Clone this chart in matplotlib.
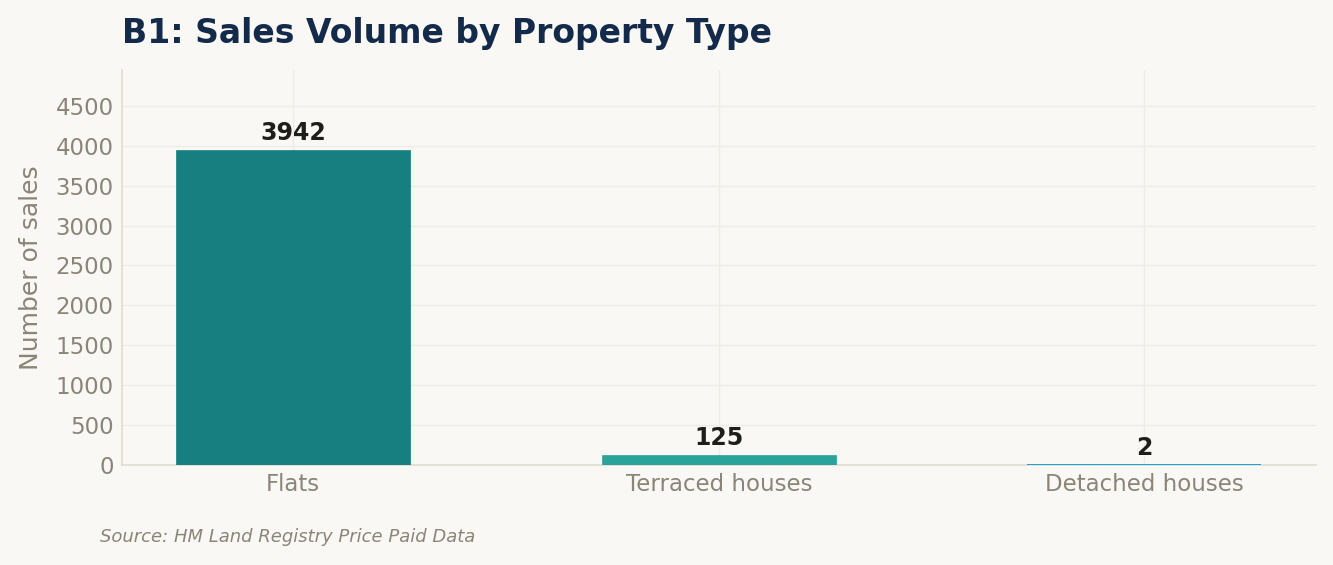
import matplotlib.pyplot as plt

plt.rcParams['font.family'] = ['DejaVu Sans']

# data
categories = ['Flats', 'Terraced houses', 'Detached houses']
sales = [3942, 125, 2]
bar_colors = ['#177F7F', '#2AA39A', '#1A9FD8']

bg = '#F9F8F4'
grid_col = '#EFECE6'
spine_col = '#E0DCCF'
text_grey = '#8A8578'

fig, ax = plt.subplots(figsize=(13.33, 5.65), dpi=100)
fig.patch.set_facecolor(bg)
ax.set_facecolor(bg)
fig.subplots_adjust(left=0.0915, right=0.987, top=0.876, bottom=0.177)

bars = ax.bar(categories, sales, width=0.55, color=bar_colors,
              edgecolor=bar_colors, linewidth=0.5, zorder=3)
# the tiny bar needs a thicker edge to show up as a line
for b, v in zip(bars, sales):
    if v < 50:
        b.set_linewidth(1.4)

for b, v in zip(bars, sales):
    ax.annotate(f'{v}', (b.get_x() + b.get_width() / 2, v),
                xytext=(0, 3.8), textcoords='offset points',
                ha='center', va='bottom', fontsize=17, fontweight='bold',
                color='#1E1E1A')

ax.set_ylim(0, max(sales) * 1.255)
ax.set_yticks(range(0, 5000, 500))
ax.grid(True, color=grid_col, linewidth=1, zorder=0)
for s in ['top', 'right']:
    ax.spines[s].set_visible(False)
for s in ['left', 'bottom']:
    ax.spines[s].set_color(spine_col)
    ax.spines[s].set_linewidth(1.2)
ax.tick_params(colors=text_grey, labelsize=16.5, length=0, pad=6)
ax.set_ylabel('Number of sales', fontsize=18, color=text_grey, labelpad=9)

fig.text(0.0915, 0.941, 'B1: Sales Volume by Property Type', fontsize=23.8,
         fontweight='bold', color='#132A4A', ha='left', va='center')
fig.text(0.075, 0.05, 'Source: HM Land Registry Price Paid Data', fontsize=13,
         style='italic', color=text_grey, ha='left', va='center')

fig.savefig('out.png', dpi=100, facecolor=bg)
